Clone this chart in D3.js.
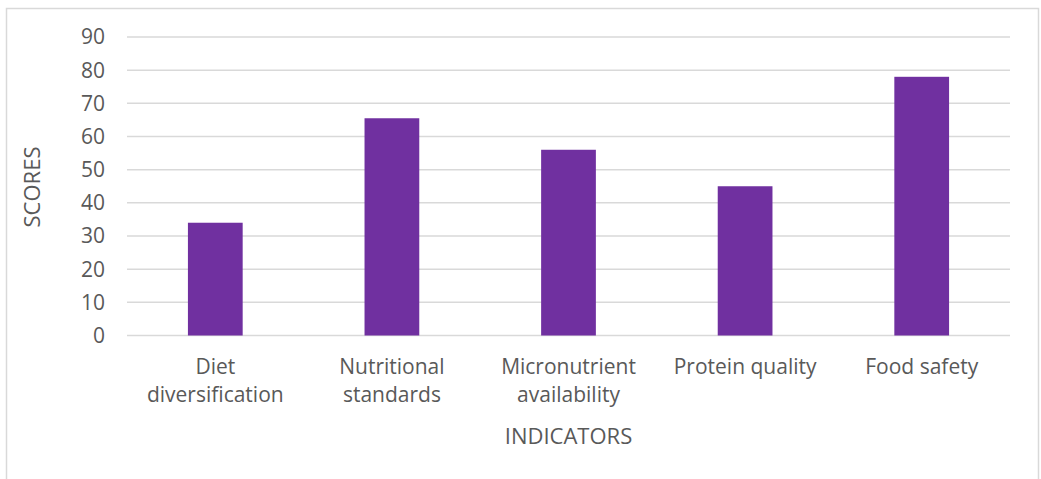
<!DOCTYPE html>
<meta charset="utf-8">
<html>
<head>
<style>
  body { margin: 0; background: #fff; }
  svg text { font-family: "Open Sans", "DejaVu Sans", sans-serif; fill: #595959; }
</style>
</head>
<body>
<svg width="1041" height="479"></svg>
<script src="https://d3js.org/d3.v7.min.js"></script>
<script>
    var categories = [["Diet", "diversification"], ["Nutritional", "standards"], ["Micronutrient", "availability"], ["Protein quality"], ["Food safety"]];
    var scores = [34, 65.5, 56, 45, 78];
    var yTicks = [0, 10, 20, 30, 40, 50, 60, 70, 80, 90];

    var svg = d3.select("svg");

    // outer frame, bottom edge runs off the picture
    svg.append("rect")
        .attr("x", 6.5).attr("y", 8.5)
        .attr("width", 1032).attr("height", 480)
        .attr("fill", "none")
        .attr("stroke", "#d9d9d9")
        .attr("stroke-width", 1.5);

    var plotLeft = 127, plotRight = 1010, plotTop = 37, plotBottom = 335.5;

    var x = d3.scaleBand()
        .domain(d3.range(categories.length))
        .range([plotLeft, plotRight])
        .paddingInner(0.69)
        .paddingOuter(0.345);

    var y = d3.scaleLinear().domain([0, 90]).range([plotBottom, plotTop]);

    // grid lines
    svg.append("g")
        .selectAll("line")
        .data(yTicks)
        .enter().append("line")
        .attr("x1", plotLeft).attr("x2", plotRight)
        .attr("y1", d => y(d)).attr("y2", d => y(d))
        .attr("stroke", "#d9d9d9")
        .attr("stroke-width", 1.5);

    // y tick labels
    svg.append("g")
        .selectAll("text")
        .data(yTicks)
        .enter().append("text")
        .attr("x", 105)
        .attr("y", d => y(d))
        .attr("dy", "0.35em")
        .attr("text-anchor", "end")
        .style("font-size", "21px")
        .text(d => d);

    // bars
    svg.append("g")
        .selectAll("rect")
        .data(scores)
        .enter().append("rect")
        .attr("x", (d, i) => x(i))
        .attr("width", x.bandwidth())
        .attr("y", d => y(d))
        .attr("height", d => y(0) - y(d))
        .attr("fill", "#7030a0");

    // category labels
    var cat = svg.append("g")
        .selectAll("text")
        .data(categories)
        .enter().append("text")
        .attr("text-anchor", "middle")
        .style("font-size", "21px")
        .attr("transform", (d, i) => "translate(" + (x(i) + x.bandwidth() / 2) + ",367)");
    cat.selectAll("tspan")
        .data(d => d)
        .enter().append("tspan")
        .attr("x", 0)
        .attr("y", (d, i) => i * 28)
        .attr("dy", "0.35em")
        .text(d => d);

    // axis titles
    svg.append("text")
        .attr("x", (plotLeft + plotRight) / 2)
        .attr("y", 436)
        .attr("dy", "0.35em")
        .attr("text-anchor", "middle")
        .style("font-size", "22px")
        .text("INDICATORS");

    svg.append("text")
        .attr("transform", "translate(32,187) rotate(-90)")
        .attr("dy", "0.35em")
        .attr("text-anchor", "middle")
        .style("font-size", "22px")
        .text("SCORES");
</script>
</body>
</html>
